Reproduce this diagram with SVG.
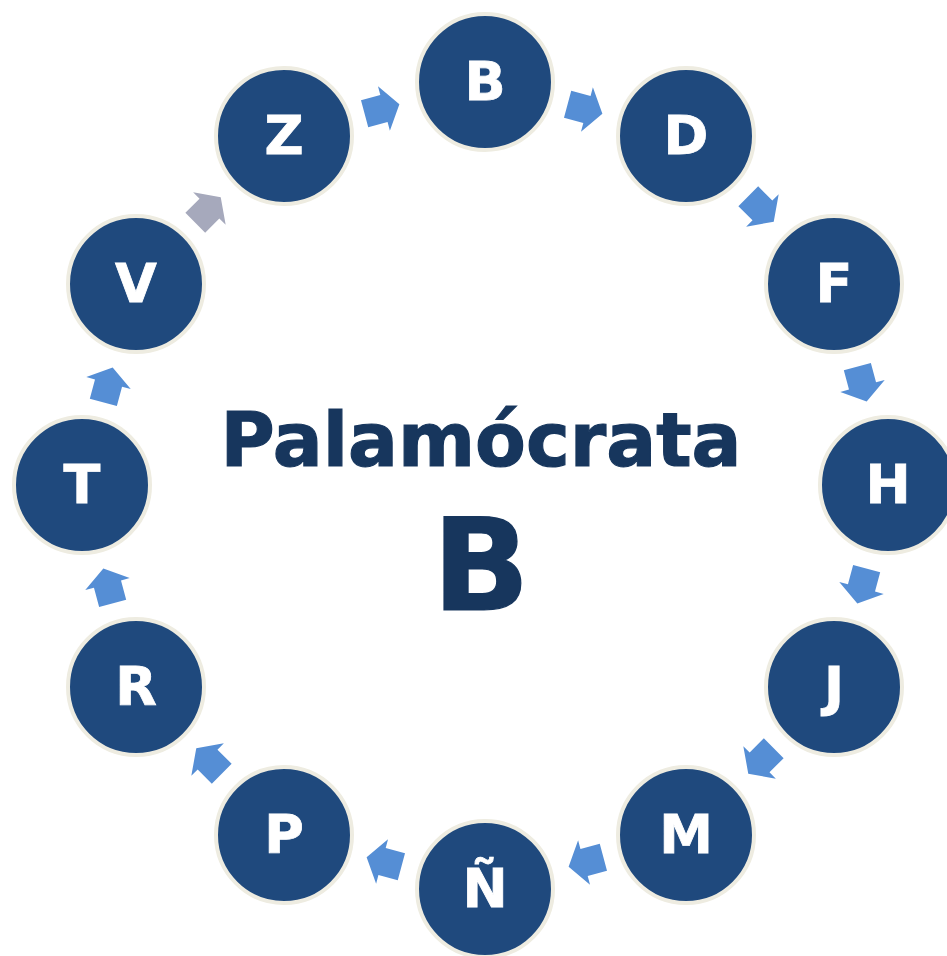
<svg xmlns="http://www.w3.org/2000/svg" width="947" height="956" viewBox="0 0 947 956">
<defs>
<style>
.node circle{fill:#1F497D;stroke:#EEECE1;stroke-width:4}
.node text{fill:#FFFFFF;stroke:#FFFFFF;stroke-width:0.8;font-family:"DejaVu Sans",Verdana,sans-serif;font-weight:bold;font-size:54px;text-anchor:middle}
.arr{fill:#558ED5}
.arr.grey{fill:#A6A9BC}
.title{fill:#17365D;stroke:#17365D;stroke-width:1.2;font-family:"DejaVu Sans",Verdana,sans-serif;font-weight:bold;text-anchor:middle}
</style>
<path id="ar" d="M-18,-14 L2,-14 L2,-23 L18,0 L2,23 L2,14 L-18,14 Z"/>
</defs>
<rect width="947" height="956" fill="#FFFFFF"/>
<g id="connectors">
<use href="#ar" class="arr" transform="translate(585,109) rotate(15)"/>
<use href="#ar" class="arr" transform="translate(761,209) rotate(45)"/>
<use href="#ar" class="arr" transform="translate(862,384) rotate(75)"/>
<use href="#ar" class="arr" transform="translate(862,586) rotate(105)"/>
<use href="#ar" class="arr" transform="translate(761,761) rotate(135)"/>
<use href="#ar" class="arr" transform="translate(586,862) rotate(165)"/>
<use href="#ar" class="arr" transform="translate(384,862) rotate(195)"/>
<use href="#ar" class="arr" transform="translate(209,761) rotate(225)"/>
<use href="#ar" class="arr" transform="translate(108,586) rotate(255)"/>
<use href="#ar" class="arr" transform="translate(108,385) rotate(285)"/>
<use href="#ar" class="arr grey" transform="translate(208,210) rotate(315)"/>
<use href="#ar" class="arr" transform="translate(382,109) rotate(345)"/>
</g>
<g id="node-B" class="node"><circle cx="485" cy="82" r="68"/><text x="485" y="100">B</text></g>
<g id="node-D" class="node"><circle cx="686" cy="136" r="68"/><text x="686" y="154">D</text></g>
<g id="node-F" class="node"><circle cx="834" cy="284" r="68"/><text x="834" y="302">F</text></g>
<g id="node-H" class="node"><circle cx="888" cy="485" r="68"/><text x="888" y="503">H</text></g>
<g id="node-J" class="node"><circle cx="834" cy="687" r="68"/><text x="834" y="705">J</text></g>
<g id="node-M" class="node"><circle cx="686" cy="835" r="68"/><text x="686" y="853">M</text></g>
<g id="node-N" class="node"><circle cx="485" cy="889" r="68"/><text x="485" y="907">Ñ</text></g>
<g id="node-P" class="node"><circle cx="284" cy="835" r="68"/><text x="284" y="853">P</text></g>
<g id="node-R" class="node"><circle cx="136" cy="687" r="68"/><text x="136" y="705">R</text></g>
<g id="node-T" class="node"><circle cx="82" cy="485" r="68"/><text x="82" y="503">T</text></g>
<g id="node-V" class="node"><circle cx="136" cy="284" r="68"/><text x="136" y="302">V</text></g>
<g id="node-Z" class="node"><circle cx="284" cy="136" r="68"/><text x="284" y="154">Z</text></g>
<g id="center">
<text class="title" x="481" y="466" font-size="74">Palamócrata</text>
<text class="title" x="481" y="610" font-size="128">B</text>
</g>
</svg>
